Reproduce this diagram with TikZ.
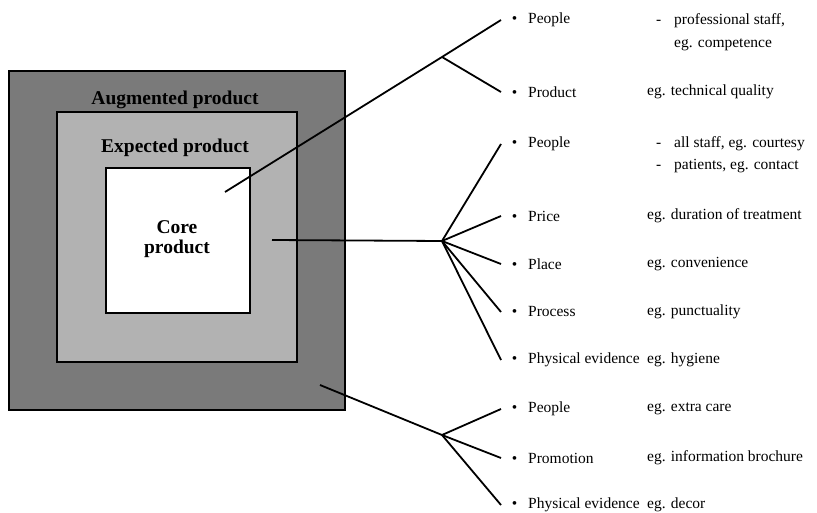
\documentclass[tikz,border=0pt]{standalone}
\usepackage{fontspec}
\setmainfont{Liberation Serif}

\tikzset{
  item/.style={anchor=west, inner sep=0pt, font=\fontsize{15.5}{18}\selectfont},
  boxlbl/.style={inner sep=0pt, align=center, font=\bfseries\fontsize{19.5}{20}\selectfont},
  ring/.style={draw=black, line width=1.5pt},
  fan/.style={black, line width=1.8pt}
}
\newcommand{\bul}{\makebox[27pt]{\textbullet}}
\newcommand{\dsh}{\makebox[18pt][l]{-}}

\begin{document}
\begin{tikzpicture}[x=1pt,y=-1pt]
\useasboundingbox (0,0) rectangle (817,513);
\draw [ring, fill=black!52] (9,71) rectangle (345,410);
\draw [ring, fill=black!30] (57,112) rectangle (297,362);
\draw [ring, fill=white] (106,168) rectangle (250,313);
\node [boxlbl] (aug) at (175,100) {Augmented product};
\node [boxlbl] (exp) at (175,148) {Expected product};
\node [boxlbl] (core) at (177,239) {Core\\product};
\node [item] (pe1) at (501,20) {\bul People};
\node [item] (prd) at (501,92) {\bul Product};
\node [item] (pe2) at (501,144) {\bul People};
\node [item] (pri) at (501,216) {\bul Price};
\node [item] (pla) at (501,264) {\bul Place};
\node [item] (pro) at (501,312) {\bul Process};
\node [item] (phy) at (501,360) {\bul Physical evidence};
\node [item] (pe3) at (501,409) {\bul People};
\node [item] (prm) at (501,458) {\bul Promotion};
\node [item] (phy2) at (501,505) {\bul Physical evidence};
\node [item] (n1) at (656,21) {\dsh professional staff,};
\node [item] (n1b) at (674,45) {eg. competence};
\node [item] (n2) at (647,92) {eg. technical quality};
\node [item] (n3) at (656,144) {\dsh all staff, eg. courtesy};
\node [item] (n3b) at (656,166) {\dsh patients, eg. contact};
\node [item] (n4) at (647,216) {eg. duration of treatment};
\node [item] (n5) at (647,264) {eg. convenience};
\node [item] (n6) at (647,312) {eg. punctuality};
\node [item] (n7) at (647,360) {eg. hygiene};
\node [item] (n8) at (647,409) {eg. extra care};
\node [item] (n9) at (647,458) {eg. information brochure};
\node [item] (n10) at (647,505) {eg. decor};
\coordinate (coreA) at (225,192);
\coordinate (hubA) at (442,57);
\coordinate (expA) at (272,240);
\coordinate (hubB) at (442,241);
\coordinate (augA) at (320,385);
\coordinate (hubC) at (442,435);
\draw [fan] (coreA) -- (hubA) -- (pe1.west);
\draw [fan] (hubA) -- (prd.west);
\draw [fan] (expA) -- (hubB);
\draw [fan] (hubB) -- (pe2.west);
\draw [fan] (hubB) -- (pri.west);
\draw [fan] (hubB) -- (pla.west);
\draw [fan] (hubB) -- (pro.west);
\draw [fan] (hubB) -- (phy.west);
\draw [fan] (augA) -- (hubC);
\draw [fan] (hubC) -- (pe3.west);
\draw [fan] (hubC) -- (prm.west);
\draw [fan] (hubC) -- (phy2.west);
\end{tikzpicture}
\end{document}
